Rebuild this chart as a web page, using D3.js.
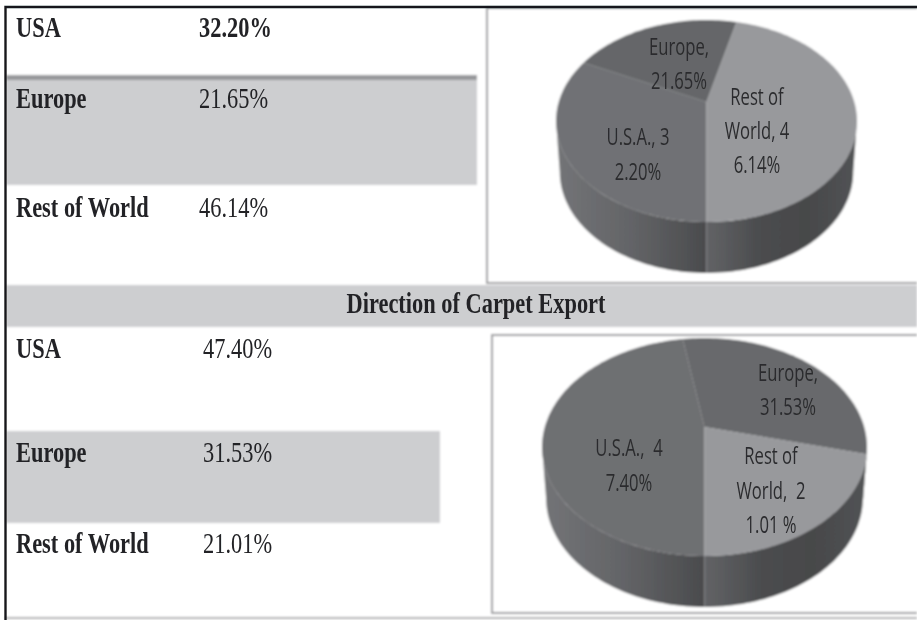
<!DOCTYPE html>
<html>
<head>
<meta charset="utf-8">
<script src="https://cdn.jsdelivr.net/npm/d3@7"></script>
<style>
    html, body { margin: 0; background: #fff; }
    svg { display: block; }
    text { white-space: pre; }
    .serif { font-family: "Liberation Serif", serif; fill: #232426; }
    .pie-label { font-family: "Open Sans", sans-serif; fill: #2b2c2e; text-anchor: middle; }
</style>
</head>
<body>
<div id="chart"></div>
<script>
// values
const regions = ["USA", "Europe", "Rest of World"];
const topShares = [32.20, 21.65, 46.14];
const exportShares = [47.40, 31.53, 21.01];
const topShareLabels = ["32.20%", "21.65%", "46.14%"];
const exportShareLabels = ["47.40%", "31.53%", "21.01%"];
const bandTitle = "Direction of Carpet Export";
const topPieLabels = [["U.S.A., 3", "2.20%"], ["Europe,", "21.65%"], ["Rest of", "World, 4", "6.14%"]];
const exportPieLabels = [["U.S.A.,  4", "7.40%"], ["Europe,", "31.53%"], ["Rest of", "World,  2", "1.01 %"]];

const svg = d3.select("#chart").append("svg")
    .attr("width", 917)
    .attr("height", 620);

// the source is a blurry scan, shapes soften more than the text
const defs = svg.append("defs");
function blur(id, amount) {
    defs.append("filter")
        .attr("id", id)
        .attr("filterUnits", "userSpaceOnUse")
        .attr("x", 0).attr("y", 0).attr("width", 917).attr("height", 620)
        .append("feGaussianBlur")
        .attr("stdDeviation", amount);
}
blur("scan", 0.9);
blur("scanText", 0.5);

const root = svg.append("g").attr("filter", "url(#scan)");
const textLayer = svg.append("g").attr("filter", "url(#scanText)");

root.append("rect").attr("width", 917).attr("height", 620).attr("fill", "#fff");

function stretched(str, x, y, size, sx, sy, cls, weight) {
    return textLayer.append("text")
        .attr("class", cls)
        .attr("transform", `translate(${x},${y}) scale(${sx},${sy})`)
        .attr("font-size", size)
        .attr("font-weight", weight)
        .text(str);
}

function band(x, y, width, height, fill) {
    root.append("rect")
        .attr("x", x).attr("y", y)
        .attr("width", width).attr("height", height)
        .attr("fill", fill);
}

// shaded rows and title band
band(6, 75, 471, 110, "#cdced0");
band(6, 75, 471, 5, "#97989b");
band(6, 285, 911, 42, "#cdced0");
band(6, 431, 434, 92, "#cdced0");

// left hand tables
function drawTable(shareLabels, valueX, baselines, boldFirst) {
    regions.forEach((name, i) => {
        stretched(name, 16, baselines[i], 20, 1.12, 1.5, "serif", "bold");
        stretched(shareLabels[i], valueX, baselines[i], 20, 1.12, 1.5, "serif",
            boldFirst && i === 0 ? "bold" : "normal");
    });
}
drawTable(topShareLabels, 199, [37, 108, 217], true);
drawTable(exportShareLabels, 203, [358, 462, 553], false);

stretched(bandTitle, 476, 313, 20, 1.12, 1.5, "serif", "bold")
    .attr("text-anchor", "middle");

// frames round the pies
function frame(x, y, height) {
    root.append("path")
        .attr("d", `M917,${y}H${x}V${y + height}H917`)
        .attr("fill", "none")
        .attr("stroke", "#98999b")
        .attr("stroke-width", 2);
}
frame(487, 8, 275);
frame(492, 335, 278);

// outer border of the scan
textLayer.append("path")
    .attr("d", "M5.5,620V7H917")
    .attr("fill", "none")
    .attr("stroke", "#17181a")
    .attr("stroke-width", 2.4);
root.append("path")
    .attr("d", "M5,618H917")
    .attr("fill", "none")
    .attr("stroke", "#8f9092")
    .attr("stroke-width", 1.5);

class TiltedPie {

    constructor(parent, id, values, labels, config) {
        this.parent = parent;
        this.id = id;
        this.values = values;
        this.labels = labels;
        this.config = config;

        this.initVis();
    }

    initVis() {
        let vis = this;
        let c = vis.config;

        vis.g = vis.parent.append("g");
        vis.k = c.apexShift / c.ry;

        // first slice starts at the front of the pie and runs clockwise
        vis.slices = d3.pie().sort(null)
            .startAngle(Math.PI)
            .endAngle(3 * Math.PI)(vis.values);

        vis.line = d3.line().x(d => d[0]).y(d => d[1]);

        // sides are only visible between the widest points of the ellipse
        vis.sideFrom = Math.acos(vis.k);
        vis.sideTo = 2 * Math.PI - vis.sideFrom;

        vis.updateVis();
    }

    // circle to ellipse, with the centre pushed back as in a perspective view
    project(angle, scale = 1, dy = 0) {
        let vis = this;
        let c = vis.config;
        let u = Math.sin(angle);
        let v = -Math.cos(angle);
        let d = 1 + vis.k * v;
        return [
            c.cx + scale * c.rx * u * Math.sqrt(1 - vis.k * vis.k) / d,
            c.cy + dy + c.ry * (v + vis.k) / d
        ];
    }

    samples(from, to) {
        let n = Math.max(2, Math.ceil((to - from) * 40));
        return d3.range(n + 1).map(i => from + (to - from) * i / n);
    }

    updateVis() {
        let vis = this;
        let c = vis.config;

        // side walls, each slice gets its own left to right shading
        vis.slices.forEach((d, i) => {
            // slices past a full turn wrap back into the visible window
            [0, -2 * Math.PI].forEach(turn => {
                let from = Math.max(d.startAngle + turn, vis.sideFrom);
                let to = Math.min(d.endAngle + turn, vis.sideTo);
                if (to <= from) return;

                let top = vis.samples(from, to).map(a => vis.project(a));
                let bottom = vis.samples(from, to).reverse().map(a => vis.project(a, c.bottomScale, c.depth));
                let xs = top.map(p => p[0]);

                let gradId = `${vis.id}-side-${i}${turn ? "b" : "a"}`;
                let stops = c.sideColors[i];
                let grad = defs.append("linearGradient")
                    .attr("id", gradId)
                    .attr("gradientUnits", "userSpaceOnUse")
                    .attr("x1", d3.min(xs)).attr("x2", d3.max(xs))
                    .attr("y1", 0).attr("y2", 0);
                grad.selectAll("stop").data(stops).join("stop")
                    .attr("offset", (s, j) => j / (stops.length - 1))
                    .attr("stop-color", s => s);

                vis.g.append("path")
                    .attr("d", vis.line(top.concat(bottom)) + "Z")
                    .attr("fill", `url(#${gradId})`);
            });
        });

        // top surface
        let apex = [c.cx, c.cy + c.apexShift];
        vis.g.selectAll(".slice")
            .data(vis.slices)
            .join("path")
            .attr("class", "slice")
            .attr("d", d => vis.line([apex].concat(vis.samples(d.startAngle, d.endAngle).map(a => vis.project(a)))) + "Z")
            .attr("fill", (d, i) => c.topColors[i]);

        // labels
        vis.labels.forEach((lines, i) => {
            lines.forEach((str, j) => {
                stretched(str, c.labelX[i], c.labelY[i][j], 16, 1.04, 1.45, "pie-label", "normal");
            });
        });
    }
}

new TiltedPie(root, "top", topShares, topPieLabels, {
    cx: 706.5, cy: 121, rx: 150.5, ry: 101, apexShift: -19, depth: 51, bottomScale: 0.975,
    topColors: ["#707174", "#656669", "#98999c"],
    sideColors: [["#737477", "#636467", "#4a4b4d"], ["#4a4b4d", "#4a4b4d"], ["#626366", "#4c4d4f", "#47484a", "#525355"]],
    labelX: [638, 679, 757],
    labelY: [[145, 180], [55, 89], [105, 139, 173]]
});

new TiltedPie(root, "export", exportShares, exportPieLabels, {
    cx: 704.5, cy: 447, rx: 162.5, ry: 109, apexShift: -20, depth: 51, bottomScale: 0.975,
    topColors: ["#6e6f72", "#68696c", "#98999c"],
    sideColors: [["#737477", "#636467", "#4a4b4d"], ["#4a4b4d", "#4a4b4d"], ["#626366", "#4c4d4f", "#47484a", "#525355"]],
    labelX: [629, 788, 771],
    labelY: [[456, 491], [381, 415], [464, 499, 533]]
});
</script>
</body>
</html>
